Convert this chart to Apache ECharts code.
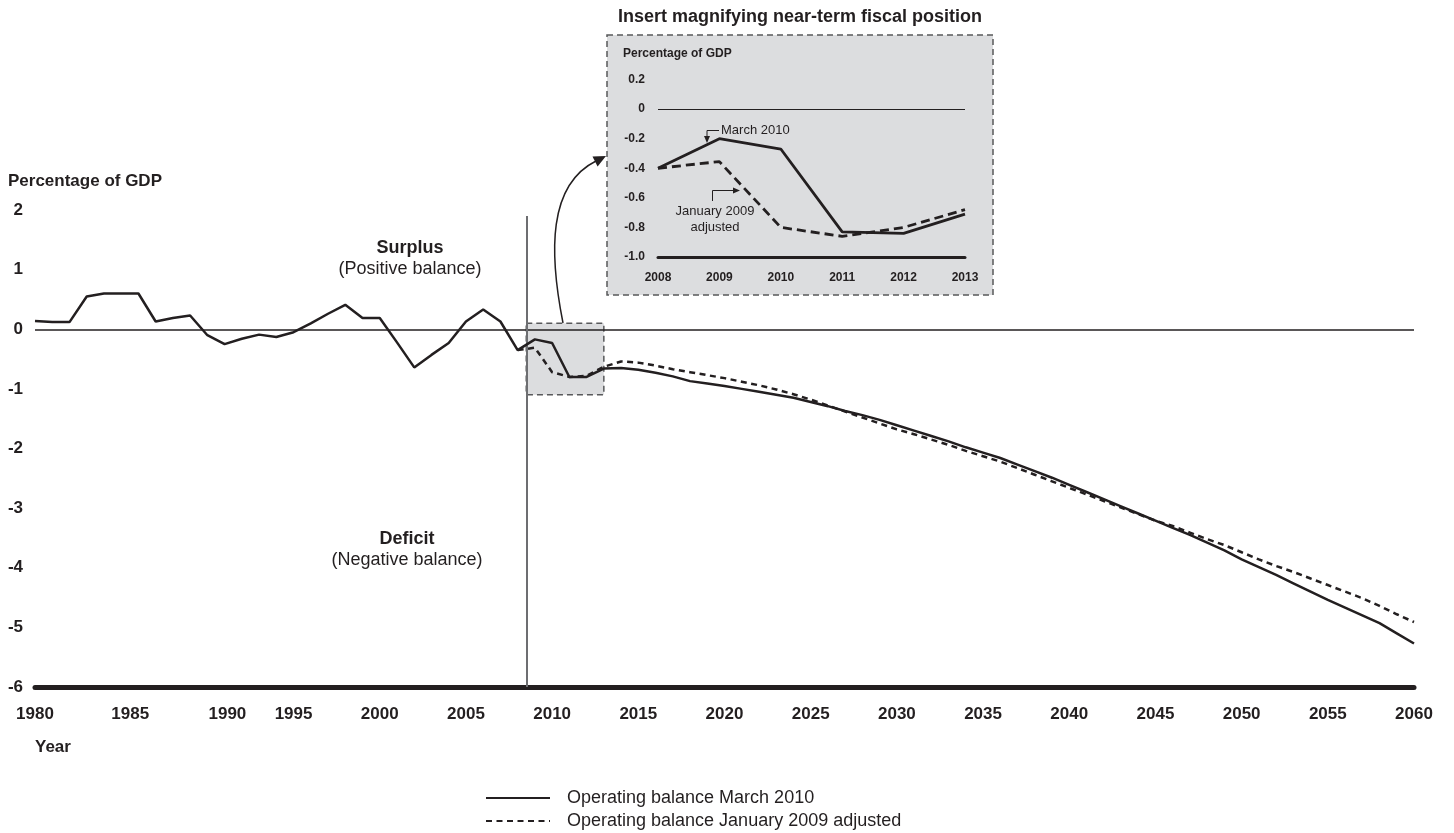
<!DOCTYPE html>
<html>
<head>
<meta charset="utf-8">
<script src="https://cdn.jsdelivr.net/npm/echarts@6/dist/echarts.min.js"></script>
<style>
  html, body { margin: 0; padding: 0; background: #fff; }
  #chart { width: 1454px; height: 833px; }
</style>
</head>
<body>
<div id="chart"></div>
<script>
// ---------------- DATA ----------------
const marchYears = [1980,1981,1982,1983,1984,1985,1986,1987,1988,1989,1990,1991,1992,1993,1994,1995,1996,1997,1998,1999,
  2000,2001,2002,2003,2004,2005,2006,2007,2008,2009,2010,2011,2012,2013,2014,2015,2016,2017,2018,2019,
  2020,2021,2022,2023,2024,2025,2026,2027,2028,2029,2030,2031,2032,2033,2034,2035,2036,2037,2038,2039,
  2040,2041,2042,2043,2044,2045,2046,2047,2048,2049,2050,2051,2052,2053,2054,2055,2056,2057,2058,2059,2060];
const marchValues = [0.14,0.12,0.12,0.55,0.60,0.60,0.60,0.13,0.19,0.23,-0.10,-0.25,-0.16,-0.09,-0.13,-0.05,0.10,0.26,0.41,0.19,
  0.19,-0.22,-0.64,-0.43,-0.23,0.13,0.33,0.13,-0.35,-0.17,-0.23,-0.80,-0.80,-0.66,-0.65,-0.68,-0.73,-0.79,-0.87,-0.91,
  -0.95,-1.00,-1.05,-1.10,-1.15,-1.22,-1.29,-1.37,-1.44,-1.52,-1.61,-1.70,-1.79,-1.88,-1.98,-2.07,-2.16,-2.27,-2.38,-2.49,
  -2.61,-2.73,-2.85,-2.97,-3.09,-3.21,-3.33,-3.45,-3.58,-3.71,-3.86,-3.99,-4.12,-4.26,-4.40,-4.54,-4.67,-4.80,-4.93,-5.10,-5.27];

const janYears = [2008,2009,2010,2011,2012,2013,2014,2015,2016,2017,2018,2019,
  2020,2021,2022,2023,2024,2025,2026,2027,2028,2029,2030,2031,2032,2033,2034,2035,2036,2037,2038,2039,
  2040,2041,2042,2043,2044,2045,2046,2047,2048,2049,2050,2051,2052,2053,2054,2055,2056,2057,2058,2059,2060];
const janValues = [-0.35,-0.31,-0.72,-0.80,-0.78,-0.63,-0.54,-0.56,-0.61,-0.67,-0.72,-0.77,
  -0.82,-0.88,-0.94,-1.01,-1.09,-1.18,-1.28,-1.38,-1.48,-1.58,-1.68,-1.76,-1.85,-1.94,-2.04,-2.13,-2.22,-2.33,-2.44,-2.55,
  -2.66,-2.77,-2.88,-2.99,-3.10,-3.21,-3.30,-3.41,-3.52,-3.62,-3.74,-3.86,-3.97,-4.07,-4.18,-4.29,-4.40,-4.51,-4.64,-4.78,-4.91];

// insert (near-term) values
const insertYears = [2008,2009,2010,2011,2012,2013];
const insertMarch = [-0.40,-0.20,-0.27,-0.83,-0.84,-0.71];
const insertJan = [-0.40,-0.355,-0.80,-0.86,-0.80,-0.68];

// axis settings
const mainXMin = 1980, mainXMax = 2060, mainXStep = 5;
const mainYMin = -6, mainYMax = 2, mainYStep = 1;
const insYMin = -1.0, insYMax = 0.2, insYStep = 0.2;
const dividerYear = 2008.5;
const zoomBox = { x0: 2008.5, x1: 2013, y0: 0.1, y1: -1.1 };

const serMarch = 'Operating balance March 2010';
const serJan = 'Operating balance January 2009 adjusted';

// ---------------- CHART ----------------
const FONT = '"Liberation Sans", Arial, Helvetica, sans-serif';
const INK = '#231f20';
const chart = echarts.init(document.getElementById('chart'), null, { renderer: 'canvas' });

const pair = (xs, ys) => xs.map((x, i) => [x, ys[i]]);

const legendBase = {
  orient: 'vertical', left: 485, padding: 0,
  itemWidth: 64, itemHeight: 14, itemGap: 9,
  itemStyle: { opacity: 0, borderWidth: 0 },
  textStyle: { fontSize: 18, color: INK, fontFamily: FONT, padding: [0, 0, 0, 12] },
  selectedMode: false
};

const option = {
  animation: false,
  backgroundColor: '#ffffff',
  textStyle: { fontFamily: FONT },
  grid: [
    { left: 35, right: 40, top: 210, bottom: 146, containLabel: false },
    { left: 658, width: 307, top: 79.5, height: 177.5, containLabel: false }
  ],
  xAxis: [
    {
      type: 'value', gridIndex: 0, min: mainXMin, max: mainXMax, interval: mainXStep,
      axisLine: { show: true, onZero: false, lineStyle: { color: INK, width: 5 } },
      axisTick: { show: false },
      splitLine: { show: false },
      axisLabel: {
        margin: 19, fontSize: 17, fontWeight: 'bold', color: INK, fontFamily: FONT,
        formatter: v => v === 1985 ? '{a|1985}' : (v === 1990 ? '{b|1990}' : String(v)),
        rich: {
          a: { fontSize: 17, fontWeight: 'bold', color: INK, fontFamily: FONT, padding: [0, 0, 0, 18] },
          b: { fontSize: 17, fontWeight: 'bold', color: INK, fontFamily: FONT, padding: [0, 0, 0, 40] }
        }
      }
    },
    {
      type: 'value', gridIndex: 1, min: 2008, max: 2013, interval: 1,
      axisLine: { show: true, onZero: false, lineStyle: { color: INK, width: 3 } },
      axisTick: { show: false },
      splitLine: { show: false },
      axisLabel: { margin: 15, fontSize: 12, fontWeight: 'bold', color: INK, fontFamily: FONT,
        formatter: v => String(v) }
    }
  ],
  yAxis: [
    {
      type: 'value', gridIndex: 0, min: mainYMin, max: mainYMax, interval: mainYStep,
      axisLine: { show: false }, axisTick: { show: false }, splitLine: { show: false },
      axisLabel: { margin: 12, fontSize: 17, fontWeight: 'bold', color: INK, fontFamily: FONT }
    },
    {
      type: 'value', gridIndex: 1, min: insYMin, max: insYMax, interval: insYStep,
      axisLine: { show: false }, axisTick: { show: false }, splitLine: { show: false },
      axisLabel: {
        margin: 13, fontSize: 12, fontWeight: 'bold', color: INK, fontFamily: FONT,
        formatter: v => Math.abs(v) < 1e-9 ? '0' : v.toFixed(1)
      }
    }
  ],
  legend: [
    Object.assign({}, legendBase, { data: [serMarch], top: 789 }),
    Object.assign({}, legendBase, { data: [serJan], top: 812 })
  ],
  series: [
    {
      name: serMarch, type: 'line', xAxisIndex: 0, yAxisIndex: 0,
      data: pair(marchYears, marchValues), symbol: 'none', z: 5,
      lineStyle: { color: INK, width: 2.5, type: 'solid' },
      itemStyle: { color: INK },
      markLine: {
        silent: true, symbol: 'none', label: { show: false },
        data: [
          [{ coord: [mainXMin, 0], lineStyle: { color: INK, width: 1.5, type: 'solid' } }, { coord: [mainXMax, 0] }],
          [{ coord: [dividerYear, 1.9], lineStyle: { color: '#6d6e71', width: 2, type: 'solid' } }, { coord: [dividerYear, mainYMin] }]
        ]
      },
      markArea: {
        silent: true,
        itemStyle: { color: '#dcdddf', borderColor: '#58595b', borderWidth: 1.5, borderType: [6, 4] },
        data: [[{ coord: [zoomBox.x0, zoomBox.y0] }, { coord: [zoomBox.x1, zoomBox.y1] }]]
      }
    },
    {
      name: serJan, type: 'line', xAxisIndex: 0, yAxisIndex: 0,
      data: pair(janYears, janValues), symbol: 'none', z: 4,
      lineStyle: { color: INK, width: 2.5, type: [6, 4.5] },
      itemStyle: { color: INK }
    },
    {
      name: 'Insert March 2010', type: 'line', xAxisIndex: 1, yAxisIndex: 1,
      data: pair(insertYears, insertMarch), symbol: 'none', z: 5,
      lineStyle: { color: INK, width: 2.8, type: 'solid' },
      markLine: {
        silent: true, symbol: 'none', label: { show: false },
        data: [[{ coord: [2008, 0], lineStyle: { color: INK, width: 1, type: 'solid' } }, { coord: [2013, 0] }]]
      }
    },
    {
      name: 'Insert January 2009 adjusted', type: 'line', xAxisIndex: 1, yAxisIndex: 1,
      data: pair(insertYears, insertJan), symbol: 'none', z: 4,
      lineStyle: { color: INK, width: 2.8, type: [9, 5] }
    }
  ],
  graphic: [
    { type: 'rect', z: -10, shape: { x: 607, y: 35, width: 386, height: 260 },
      style: { fill: '#dcdddf', stroke: '#58595b', lineWidth: 1.5, lineDash: [6, 4] } },
    { type: 'text', style: { text: 'Insert magnifying near-term fiscal position', x: 800, y: 17,
      textAlign: 'center', textVerticalAlign: 'middle', fontSize: 18, fontWeight: 'bold', fontFamily: FONT, fill: INK } },
    { type: 'text', style: { text: 'Percentage of GDP', x: 623, y: 54,
      textAlign: 'left', textVerticalAlign: 'middle', fontSize: 12, fontWeight: 'bold', fontFamily: FONT, fill: INK } },
    { type: 'text', style: { text: 'March 2010', x: 721, y: 130,
      textAlign: 'left', textVerticalAlign: 'middle', fontSize: 13, fontFamily: FONT, fill: INK } },
    { type: 'polyline', shape: { points: [[719, 130.5], [707, 130.5], [707, 137]] }, style: { stroke: INK, lineWidth: 1, fill: null } },
    { type: 'polygon', shape: { points: [[704, 136], [710, 136], [707, 143]] }, style: { fill: INK } },
    { type: 'text', style: { text: 'January 2009\nadjusted', x: 715, y: 219, lineHeight: 16,
      textAlign: 'center', textVerticalAlign: 'middle', fontSize: 13, fontFamily: FONT, fill: INK } },
    { type: 'polyline', shape: { points: [[712.5, 201], [712.5, 190.5], [734, 190.5]] }, style: { stroke: INK, lineWidth: 1, fill: null } },
    { type: 'polygon', shape: { points: [[733, 187.5], [733, 193.5], [740, 190.5]] }, style: { fill: INK } },
    { type: 'text', style: { text: 'Percentage of GDP', x: 8, y: 181,
      textAlign: 'left', textVerticalAlign: 'middle', fontSize: 17, fontWeight: 'bold', fontFamily: FONT, fill: INK } },
    { type: 'text', style: { text: 'Year', x: 35, y: 747,
      textAlign: 'left', textVerticalAlign: 'middle', fontSize: 17, fontWeight: 'bold', fontFamily: FONT, fill: INK } },
    { type: 'text', style: { text: 'Surplus', x: 410, y: 248,
      textAlign: 'center', textVerticalAlign: 'middle', fontSize: 18, fontWeight: 'bold', fontFamily: FONT, fill: INK } },
    { type: 'text', style: { text: '(Positive balance)', x: 410, y: 269,
      textAlign: 'center', textVerticalAlign: 'middle', fontSize: 18, fontFamily: FONT, fill: INK } },
    { type: 'text', style: { text: 'Deficit', x: 407, y: 539,
      textAlign: 'center', textVerticalAlign: 'middle', fontSize: 18, fontWeight: 'bold', fontFamily: FONT, fill: INK } },
    { type: 'text', style: { text: '(Negative balance)', x: 407, y: 560,
      textAlign: 'center', textVerticalAlign: 'middle', fontSize: 18, fontFamily: FONT, fill: INK } },
    { type: 'bezierCurve', shape: { x1: 563, y1: 323, cpx1: 549, cpy1: 252, cpx2: 548, cpy2: 185, x2: 596, y2: 161 },
      style: { stroke: INK, lineWidth: 1.5, fill: null } },
    { type: 'polygon', shape: { points: [[606, 156], [597.6, 166.5], [592.5, 156.5]] }, style: { fill: INK } }
  ]
};

chart.setOption(option);
</script>
</body>
</html>
